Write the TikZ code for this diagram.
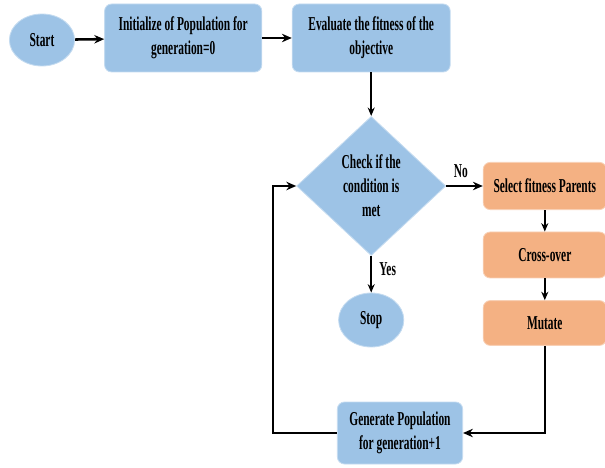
\documentclass[tikz,border=0pt]{standalone}
\usepackage{fontspec}
\setmainfont{Liberation Serif}[FakeStretch=0.58]
\usepackage{tikz}
\usetikzlibrary{arrows.meta}
\usetikzlibrary{shapes.geometric}
\usetikzlibrary{positioning}
\definecolor{stepblue}{RGB}{157,195,230}
\definecolor{steporange}{RGB}{244,177,131}
\tikzstyle{terminal}=[ellipse,align=center,fill=stepblue,draw=stepblue!60!white,line width=0.6pt,inner sep=0pt]
\tikzstyle{process}=[rectangle,rounded corners=5pt,align=center,fill=stepblue,draw=stepblue!60!white,line width=0.6pt,inner sep=0pt]
\tikzstyle{operator}=[rectangle,rounded corners=5pt,align=center,fill=steporange,draw=steporange!60!white,line width=0.6pt,inner sep=0pt]
\tikzstyle{decision}=[diamond,align=center,fill=stepblue,draw=stepblue!60!white,line width=0.6pt,inner sep=0pt]
\tikzstyle{flow}=[draw,line width=1.8pt,black,-{Stealth[length=7pt,width=6pt]}]
\tikzstyle{thinflow}=[draw,line width=1.1pt,black,-{Stealth[length=6pt,width=5pt]}]

\begin{document}
\begin{tikzpicture}[font=\bfseries\fontsize{14}{17}\selectfont]
	\useasboundingbox (0,0) rectangle (15.125,-11.7);
	\node[terminal,minimum width=1.63cm,minimum height=1.3cm] (st) at (1.05,-1.0) {Start};
	\node[process,minimum width=3.93cm,minimum height=1.7cm] (in) at (4.58,-0.95) {Initialize of Population for\\generation=0};
	\node[process,minimum width=3.95cm,minimum height=1.7cm] (ev) at (9.28,-0.95) {Evaluate the fitness of the\\objective};
	\node[decision,minimum width=3.73cm,minimum height=3.48cm] (ch) at (9.28,-4.65) {Check if the\\condition is\\met};
	\node[operator,minimum width=3.08cm,minimum height=1.18cm] (se) at (13.62,-4.65) {Select fitness Parents};
	\node[operator,minimum width=3.08cm,minimum height=1.15cm] (cr) at (13.62,-6.375) {Cross-over};
	\node[operator,minimum width=3.08cm,minimum height=1.12cm] (mu) at (13.62,-8.075) {Mutate};
	\node[terminal,minimum width=1.63cm,minimum height=1.35cm] (sp) at (9.28,-8.0) {Stop};
	\node[process,minimum width=3.13cm,minimum height=1.55cm] (ge) at (10.0,-10.825) {Generate Population\\for generation+1};
	\coordinate (lp) at (6.825,-10.825);
	
	\path[flow] (st) -- (in);
	\path[flow] (in) -- (ev);
	\path[thinflow] (ev) -- (ch);
	\path[flow] (ch) -- node [above,pos=0.4,yshift=2pt] {No} (se);
	\path[thinflow] (ch) -- node [right,pos=0.35,xshift=2pt] {Yes} (sp);
	\path[thinflow] (se) -- (cr);
	\path[thinflow] (cr) -- (mu);
	\path[flow] (mu.south) |- (ge.east);
	\path[flow] (ge.west) -- (lp) |- (ch.west);
	
\end{tikzpicture}
\end{document}
